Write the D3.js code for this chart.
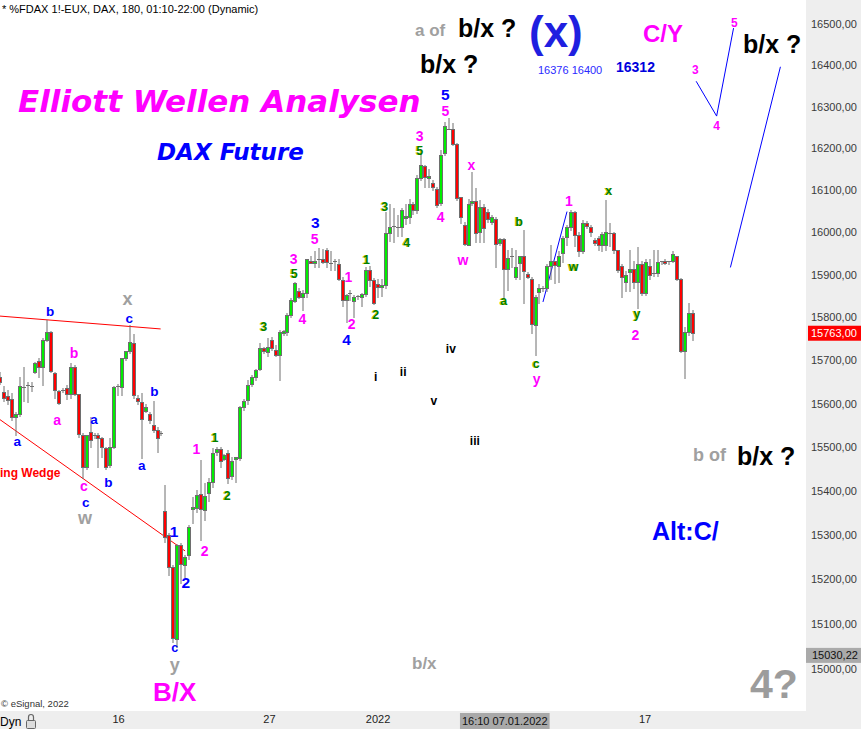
<!DOCTYPE html>
<html><head><meta charset="utf-8">
<script src="https://cdn.jsdelivr.net/npm/d3@7"></script>
<style>
html,body{margin:0;padding:0;background:#fff;overflow:hidden}
svg{display:block}
text{font-family:Arial,"Liberation Sans",sans-serif}
</style></head><body>
<svg id="chart" width="861" height="729"></svg>
<script>
// ---------- DATA (3-hour bars, FDAX) ----------
const opens = [15661,15626,15617,15610,15570,15575,15640,15640,15640,15673,15698,15684,15747,15766,15670,15628,15631,15635,15621,15684,15621,15528,15455,15535,15528,15528,15521,15498,15459,15500,15638,15638,15705,15721,15740,15614,15603,15584,15575,15551,15540,15533,
15355,15300,15228,15068,15278,15233,15255,15360,15362,15393,15358,15396,15420,15489,15496,15473,15486,15434,15473,15475,15593,15607,15645,15661,15680,15728,15719,15747,15723,15712,15764,15766,15806,15838,15862,15848,15857,15933,15929,15935,15936,15957,15929,15931,15926,15888,15840,15855,15838,15848,15848,15855,15912,15888,15878,15871,15876,15998,16013,16012,16013,16034,16036,16066,16052,16128,16157,16128,16117,16102,16070,16189,16250,16247,16210,16084,16018,15972,16068,16075,16000,16060,16047,16025,16032,15974,15984,15914,15941,15895,15926,15943,15902,15890,15783,15859,15869,15869,15919,15931,15921,15950,15988,16012,16048,15993,15955,16022,16012,15981,15986,15969,15969,15998,15998,15957,15921,15883,15907,15914,15883,15926,15857,15921,15902,15904,15929,15933,15929,15931,15943,15890,15721,15766,15810];
const highs = [15673,15640,15631,15624,15580,15661,15684,15649,15649,15696,15705,15752,15794,15768,15672,15631,15635,15642,15694,15689,15621,15533,15528,15570,15533,15533,15523,15500,15521,15640,15645,15705,15721,15782,15762,15620,15624,15600,15580,15607,15547,15538,
15414,15304,15232,15280,15282,15255,15322,15385,15402,15470,15418,15430,15498,15500,15500,15485,15493,15477,15477,15595,15610,15654,15665,15680,15740,15732,15752,15754,15735,15771,15770,15810,15845,15882,15869,15864,15938,15943,15955,15962,15960,15962,15955,15936,15936,15895,15855,15864,15852,15852,15857,15917,15921,15893,15890,15890,16049,16066,16058,16040,16058,16068,16078,16071,16135,16189,16160,16150,16124,16107,16196,16263,16273,16261,16212,16084,16025,16078,16144,16105,16077,16068,16054,16040,16035,15986,15986,15959,15962,15959,15945,16005,15907,15895,15852,15878,15874,15926,15971,15933,15955,15990,16017,16053,16050,16000,16029,16027,16017,15986,15990,16000,16077,16022,16000,15959,15924,15909,15959,15931,15964,15931,15936,15936,15959,15959,15933,15936,15933,15955,15945,15893,15778,15833,15817];
const lows = [15645,15605,15600,15563,15528,15572,15607,15603,15630,15670,15661,15642,15745,15673,15614,15598,15626,15610,15612,15619,15523,15430,15450,15500,15520,15455,15477,15450,15455,15498,15620,15620,15700,15718,15614,15600,15475,15580,15555,15535,15489,15528,
15285,15210,15060,15049,15192,15205,15245,15327,15351,15289,15334,15376,15409,15482,15455,15470,15419,15427,15420,15470,15585,15600,15640,15655,15677,15718,15710,15723,15710,15654,15760,15759,15801,15836,15845,15817,15848,15928,15917,15917,15928,15917,15912,15912,15888,15826,15789,15840,15801,15843,15826,15850,15874,15831,15848,15850,15869,15980,15978,15990,15990,16020,16022,16044,16046,16124,16107,16107,16100,16060,16065,16184,16245,16207,16077,16023,15970,15970,16065,15977,15977,15977,16025,16020,15917,15970,15848,15865,15917,15890,15890,15833,15893,15764,15712,15833,15862,15862,15890,15880,15883,15929,15971,16005,15967,15943,15952,16010,15990,15971,15959,15955,15959,15967,15952,15907,15848,15862,15862,15869,15822,15852,15852,15890,15898,15898,15926,15926,15926,15929,15888,15719,15660,15759,15747];
const closes = [15649,15612,15607,15568,15577,15640,15638,15642,15640,15694,15684,15747,15766,15675,15631,15600,15631,15621,15684,15621,15528,15455,15528,15516,15527,15521,15500,15455,15500,15638,15640,15705,15721,15742,15619,15607,15563,15593,15561,15540,15521,15533,
15296,15228,15069,15278,15235,15251,15318,15364,15391,15358,15389,15420,15486,15496,15468,15482,15430,15468,15477,15593,15607,15642,15661,15677,15728,15721,15731,15728,15712,15766,15768,15806,15840,15880,15848,15857,15936,15928,15933,15936,15929,15929,15928,15933,15890,15840,15852,15857,15848,15850,15855,15912,15888,15833,15871,15876,15998,16013,16014,16013,16053,16038,16066,16052,16128,16160,16131,16133,16107,16065,16184,16254,16247,16212,16082,16037,15974,16068,16073,16000,16060,16010,16030,16037,15974,15984,15914,15940,15943,15919,15943,15907,15895,15785,15848,15869,15869,15921,15931,15921,15945,15986,16012,16048,15993,15955,16022,16015,16000,15974,15969,15995,16000,15999,15957,15909,15895,15900,15914,15883,15926,15857,15929,15900,15904,15929,15931,15929,15931,15948,15890,15721,15766,15810,15763];

const priceTicks = d3.range(15000, 16501, 100);
const dayTicks = ["16", "27", "2022", "17"];
const dayTickBars = [30.0, 68.3, 95.9, 163.7];
const crosshairLabel = "16:10 07.01.2022";
const crosshairBar = 128.2;
const lastPrice = 15763.00;
const lowMarker = 15030.22;

// wave count labels: text, bar position, price position, label kind
const waveText  = ["b","x","c","b","a","a","a","b","a","b","c","c","w","1","1","1","2","2","2","c","y","3","3","5","3","5","4","1","2","4","1","2","3","4","4","i","ii","iv","v","iii","5","5","3","5","x","w","b","a","1","w","x","y","2","c","y","3","5","4"];
const waveBar   = [12.7,32.4,32.8,18.8,14.5,4.4,23.9,39.2,36.0,27.5,21.3,21.8,21.6,49.9,44.2,54.6,57.7,52.0,47.2,44.4,44.4,67.0,80.1,79.9,74.6,74.7,76.8,88.5,89.3,88.0,93.1,95.4,97.7,103.3,111.9,95.4,102.4,114.5,110.2,120.6,113.1,113.1,106.6,106.6,119.7,117.6,131.8,127.9,144.5,145.7,154.6,161.8,161.4,136.2,136.3,176.6,186.5,182.0];
const wavePrice = [15815,15840,15796,15718,15558,15510,15561,15628,15455,15421,15408,15372,15335,15495,15308,15521,15389,15265,15193,15046,15001,15779,16024,15985,15938,15902,15796,15894,15784,15749,15936,15806,16061,15975,16037,15661,15673,15728,15605,15514,16330,16289,16229,16195,16156,15932,16025,15837,16073,15917,16097,15803,15758,15690,15650,16390,16504,16254];
const waveKind  = ["blue","gray","blue","mag","mag","blue","blue","blue","blue","blue","mag","blue","gray","mag","blueL","green","green","mag","blueL","blueS","gray","green","blueL","mag","mag","green","mag","mag","mag","blueL","green","green","green","green","mag","roman","roman","roman","roman","roman","blueL","mag","mag","green","mag","mag","green","green","mag","green","green","green","mag","green","mag","magS","magS","magS"];

// trend / projection lines: [bar, price]
const wedgeUpper = [[0,15803],[40.8,15773]];
const wedgeLower = [[0,15563],[47.0,15264]];
const waveLine   = [[137.9,15836],[144.0,16049]];
const projPath   = [[176.8,16361],[182.0,16277],[186.3,16490]];
const projLine   = [[198.2,16396],[185.5,15917]];

// ---------- LAYOUT ----------
const W = 861, H = 729, plotR = 806, plotB = 711;
const svg = d3.select("#chart");
const n = closes.length;
const x = d3.scaleLinear().domain([0, n - 1]).range([0, 693]);
const y = d3.scaleLog().domain([15000, 16500]).range([669, 24]);

svg.append("rect").attr("width", W).attr("height", H).attr("fill", "#ffffff");
svg.append("defs").append("clipPath").attr("id", "plotClip")
  .append("rect").attr("x", 0).attr("y", 0).attr("width", plotR).attr("height", plotB);

const plot = svg.append("g").attr("clip-path", "url(#plotClip)");

// header
plot.append("text").attr("x", 2).attr("y", 13).attr("font-size", 11).attr("fill", "#000")
  .text("* %FDAX 1!-EUX, DAX, 180, 01:10-22:00 (Dynamic)");

// title texts
plot.append("text").attr("x", 18).attr("y", 112)
  .style("font-family", "'DejaVu Sans',Verdana,sans-serif").attr("font-size", 31)
  .attr("font-weight", "bold").attr("font-style", "oblique").attr("fill", "#ff00ff")
  .text("Elliott Wellen Analysen");
plot.append("text").attr("x", 157).attr("y", 160)
  .style("font-family", "'DejaVu Sans',Verdana,sans-serif").attr("font-size", 23)
  .attr("font-weight", "bold").attr("font-style", "oblique").attr("fill", "#0000ff")
  .text("DAX Future");

// lines
const line = d3.line().x(d => x(d[0])).y(d => y(d[1]));
plot.append("path").attr("d", line(wedgeUpper)).attr("stroke", "#ff0000").attr("fill", "none").attr("stroke-width", 1);
plot.append("path").attr("d", line(wedgeLower)).attr("stroke", "#ff0000").attr("fill", "none").attr("stroke-width", 1);
[waveLine, projPath, projLine].forEach(p =>
  plot.append("path").attr("d", line(p)).attr("stroke", "#0000ff").attr("fill", "none").attr("stroke-width", 1));

// candles
const bars = d3.range(n).map(i => ({ i, o: opens[i], h: highs[i], l: lows[i], c: closes[i] }));
const col = d => Math.round(x(d.i)) - 1;
const cg = plot.append("g");
cg.selectAll("line.wick").data(bars).join("line").attr("class", "wick")
  .attr("x1", d => col(d) + 1).attr("x2", d => col(d) + 1)
  .attr("y1", d => Math.round(y(d.h))).attr("y2", d => Math.round(y(d.l)) + 1)
  .attr("stroke", "#6e6e6e").attr("stroke-width", 1);
const bodyBars = bars.filter(d => Math.abs(y(d.o) - y(d.c)) >= 1.5);
const dojiBars = bars.filter(d => Math.abs(y(d.o) - y(d.c)) < 1.5);
cg.selectAll("rect.body").data(bodyBars).join("rect").attr("class", "body")
  .attr("x", d => col(d) - 0.5).attr("width", 3)
  .attr("y", d => Math.round(y(Math.max(d.o, d.c))) + 0.5)
  .attr("height", d => Math.max(1, Math.round(y(Math.min(d.o, d.c)) - y(Math.max(d.o, d.c)))))
  .attr("fill", d => d.c >= d.o ? "#00ee00" : "#ff0000")
  .attr("stroke", "#6e6e6e").attr("stroke-width", 1);
cg.selectAll("line.doji").data(dojiBars).join("line").attr("class", "doji")
  .attr("x1", d => col(d) - 1).attr("x2", d => col(d) + 3)
  .attr("y1", d => Math.round(y(d.c)) + 0.5).attr("y2", d => Math.round(y(d.c)) + 0.5)
  .attr("stroke", "#6e6e6e").attr("stroke-width", 1);

// wave labels
const kindStyle = {
  blue:  { fill: "#0000ff", size: 13.5 },
  blueS: { fill: "#0000ff", size: 12.5 },
  blueL: { fill: "#0000ff", size: 15.5 },
  mag:   { fill: "#ff00ff", size: 14 },
  magS:  { fill: "#ff00ff", size: 12 },
  green: { fill: "#008000", size: 12.5, shadow: "#d6c800" },
  gray:  { fill: "#a0a0a0", size: 18 },
  roman: { fill: "#000000", size: 12 }
};
const labels = waveText.map((t, i) => ({ t, b: waveBar[i], p: wavePrice[i], k: kindStyle[waveKind[i]] }));
const dyFor = t => /^[0-9bdi]/.test(t) ? 0.36 : (t.includes("y") ? 0.16 : 0.26);
const lg = plot.append("g").attr("font-weight", "bold").attr("text-anchor", "middle");
labels.filter(d => d.k.shadow).forEach(d => {
  lg.append("text").attr("x", x(d.b) - 1).attr("y", y(d.p) + dyFor(d.t) * d.k.size)
    .attr("font-size", d.k.size).attr("fill", d.k.shadow).text(d.t);
});
lg.selectAll("text.wl").data(labels).join("text").attr("class", "wl")
  .attr("x", d => x(d.b)).attr("y", d => y(d.p) + dyFor(d.t) * d.k.size)
  .attr("font-size", d => d.k.size).attr("fill", d => d.k.fill).text(d => d.t);

// big annotation texts (layout overlay)
const notes = [
  { t: "a of", x: 415, y: 36, s: 17, f: "#a0a0a0" },
  { t: "b/x ?", x: 458, y: 37, s: 25, f: "#000" },
  { t: "b/x ?", x: 420, y: 73, s: 25, f: "#000" },
  { t: "(x)", x: 529, y: 47, s: 44, f: "#1f1fe0" },
  { t: "C/Y", x: 643, y: 42, s: 24, f: "#ff00ff" },
  { t: "16376 16400", x: 538, y: 74, s: 11, f: "#2a2aff", w: "normal" },
  { t: "16312", x: 616, y: 72, s: 14, f: "#0000dd" },
  { t: "b/x ?", x: 743, y: 53, s: 25, f: "#000" },
  { t: "b of", x: 693, y: 461, s: 18, f: "#a0a0a0" },
  { t: "b/x ?", x: 737, y: 465, s: 25, f: "#000" },
  { t: "Alt:C/", x: 652, y: 540, s: 25, f: "#0000ff" },
  { t: "4?", x: 750, y: 698, s: 41, f: "#9c9c9c" },
  { t: "b/x", x: 412, y: 669, s: 17, f: "#a0a0a0" },
  { t: "B/X", x: 153, y: 701, s: 26, f: "#ff00ff" },
  { t: "ing Wedge", x: 0, y: 477, s: 12, f: "#ff0000" }
];
plot.selectAll("text.note").data(notes).join("text").attr("class", "note")
  .attr("x", d => d.x).attr("y", d => d.y).attr("font-size", d => d.s)
  .attr("font-weight", d => d.w || "bold").attr("fill", d => d.f).text(d => d.t);
plot.append("text").attr("x", 1).attr("y", 707).attr("font-size", 9.5).attr("fill", "#333")
  .text("© eSignal, 2022");

// ---------- AXES ----------
svg.append("rect").attr("x", plotR).attr("y", 0).attr("width", W - plotR).attr("height", H).attr("fill", "#eeeeee");
svg.append("rect").attr("x", 0).attr("y", plotB).attr("width", W).attr("height", H - plotB).attr("fill", "#eeeeee");

const fmt = v => d3.format(".2f")(v).replace(".", ",");
const yAxis = d3.axisRight(y).tickValues(priceTicks).tickFormat(fmt).tickSize(0).tickPadding(0);
const ya = svg.append("g").attr("transform", `translate(811,0)`).call(yAxis);
ya.select(".domain").remove();
ya.selectAll("text").attr("font-size", 11).attr("fill", "#3a3a3a").style("font-family", "Arial,'Liberation Sans',sans-serif");

// price markers
svg.append("rect").attr("x", 808).attr("y", y(lastPrice) - 7.5).attr("width", 53).attr("height", 15).attr("fill", "#ff0000");
svg.append("text").attr("x", 811).attr("y", y(lastPrice) + 4).attr("font-size", 11).attr("fill", "#fff").text(fmt(lastPrice));
svg.append("rect").attr("x", 806).attr("y", y(lowMarker) - 7.5).attr("width", 55).attr("height", 15).attr("fill", "#aaaaaa");
svg.append("text").attr("x", 812).attr("y", y(lowMarker) + 4).attr("font-size", 11).attr("fill", "#111").text(fmt(lowMarker));

// x axis
const xAxis = d3.axisBottom(x).tickValues(dayTickBars).tickFormat((d, i) => dayTicks[i]).tickSize(0).tickPadding(0);
const xa = svg.append("g").attr("transform", `translate(0,${plotB + 4})`).call(xAxis);
xa.select(".domain").remove();
xa.selectAll("text").attr("font-size", 11).attr("fill", "#222").style("font-family", "Arial,'Liberation Sans',sans-serif");

// crosshair date label
const ct = svg.append("text").attr("x", x(crosshairBar)).attr("y", 725).attr("text-anchor", "middle")
  .attr("font-size", 11).attr("fill", "#111").text(crosshairLabel);
const cw = ct.node().getComputedTextLength();
svg.insert("rect", () => ct.node()).attr("x", x(crosshairBar) - cw / 2 - 2).attr("y", 713)
  .attr("width", cw + 4).attr("height", 16).attr("fill", "#a9a9a9");

// Dyn + lock
svg.append("text").attr("x", 0).attr("y", 726).attr("font-size", 12).attr("fill", "#000").text("Dyn");
const lp = d3.path();
lp.moveTo(28.5, 720); lp.lineTo(28.5, 717); lp.arc(31, 717, 2.5, Math.PI, 0); lp.lineTo(33.5, 720);
svg.append("path").attr("d", lp.toString()).attr("fill", "none").attr("stroke", "#666").attr("stroke-width", 1.2);
svg.append("rect").attr("x", 26.5).attr("y", 720.5).attr("width", 9).attr("height", 8).attr("rx", 1)
  .attr("fill", "#dcdcdc").attr("stroke", "#666");
</script>
</body></html>
